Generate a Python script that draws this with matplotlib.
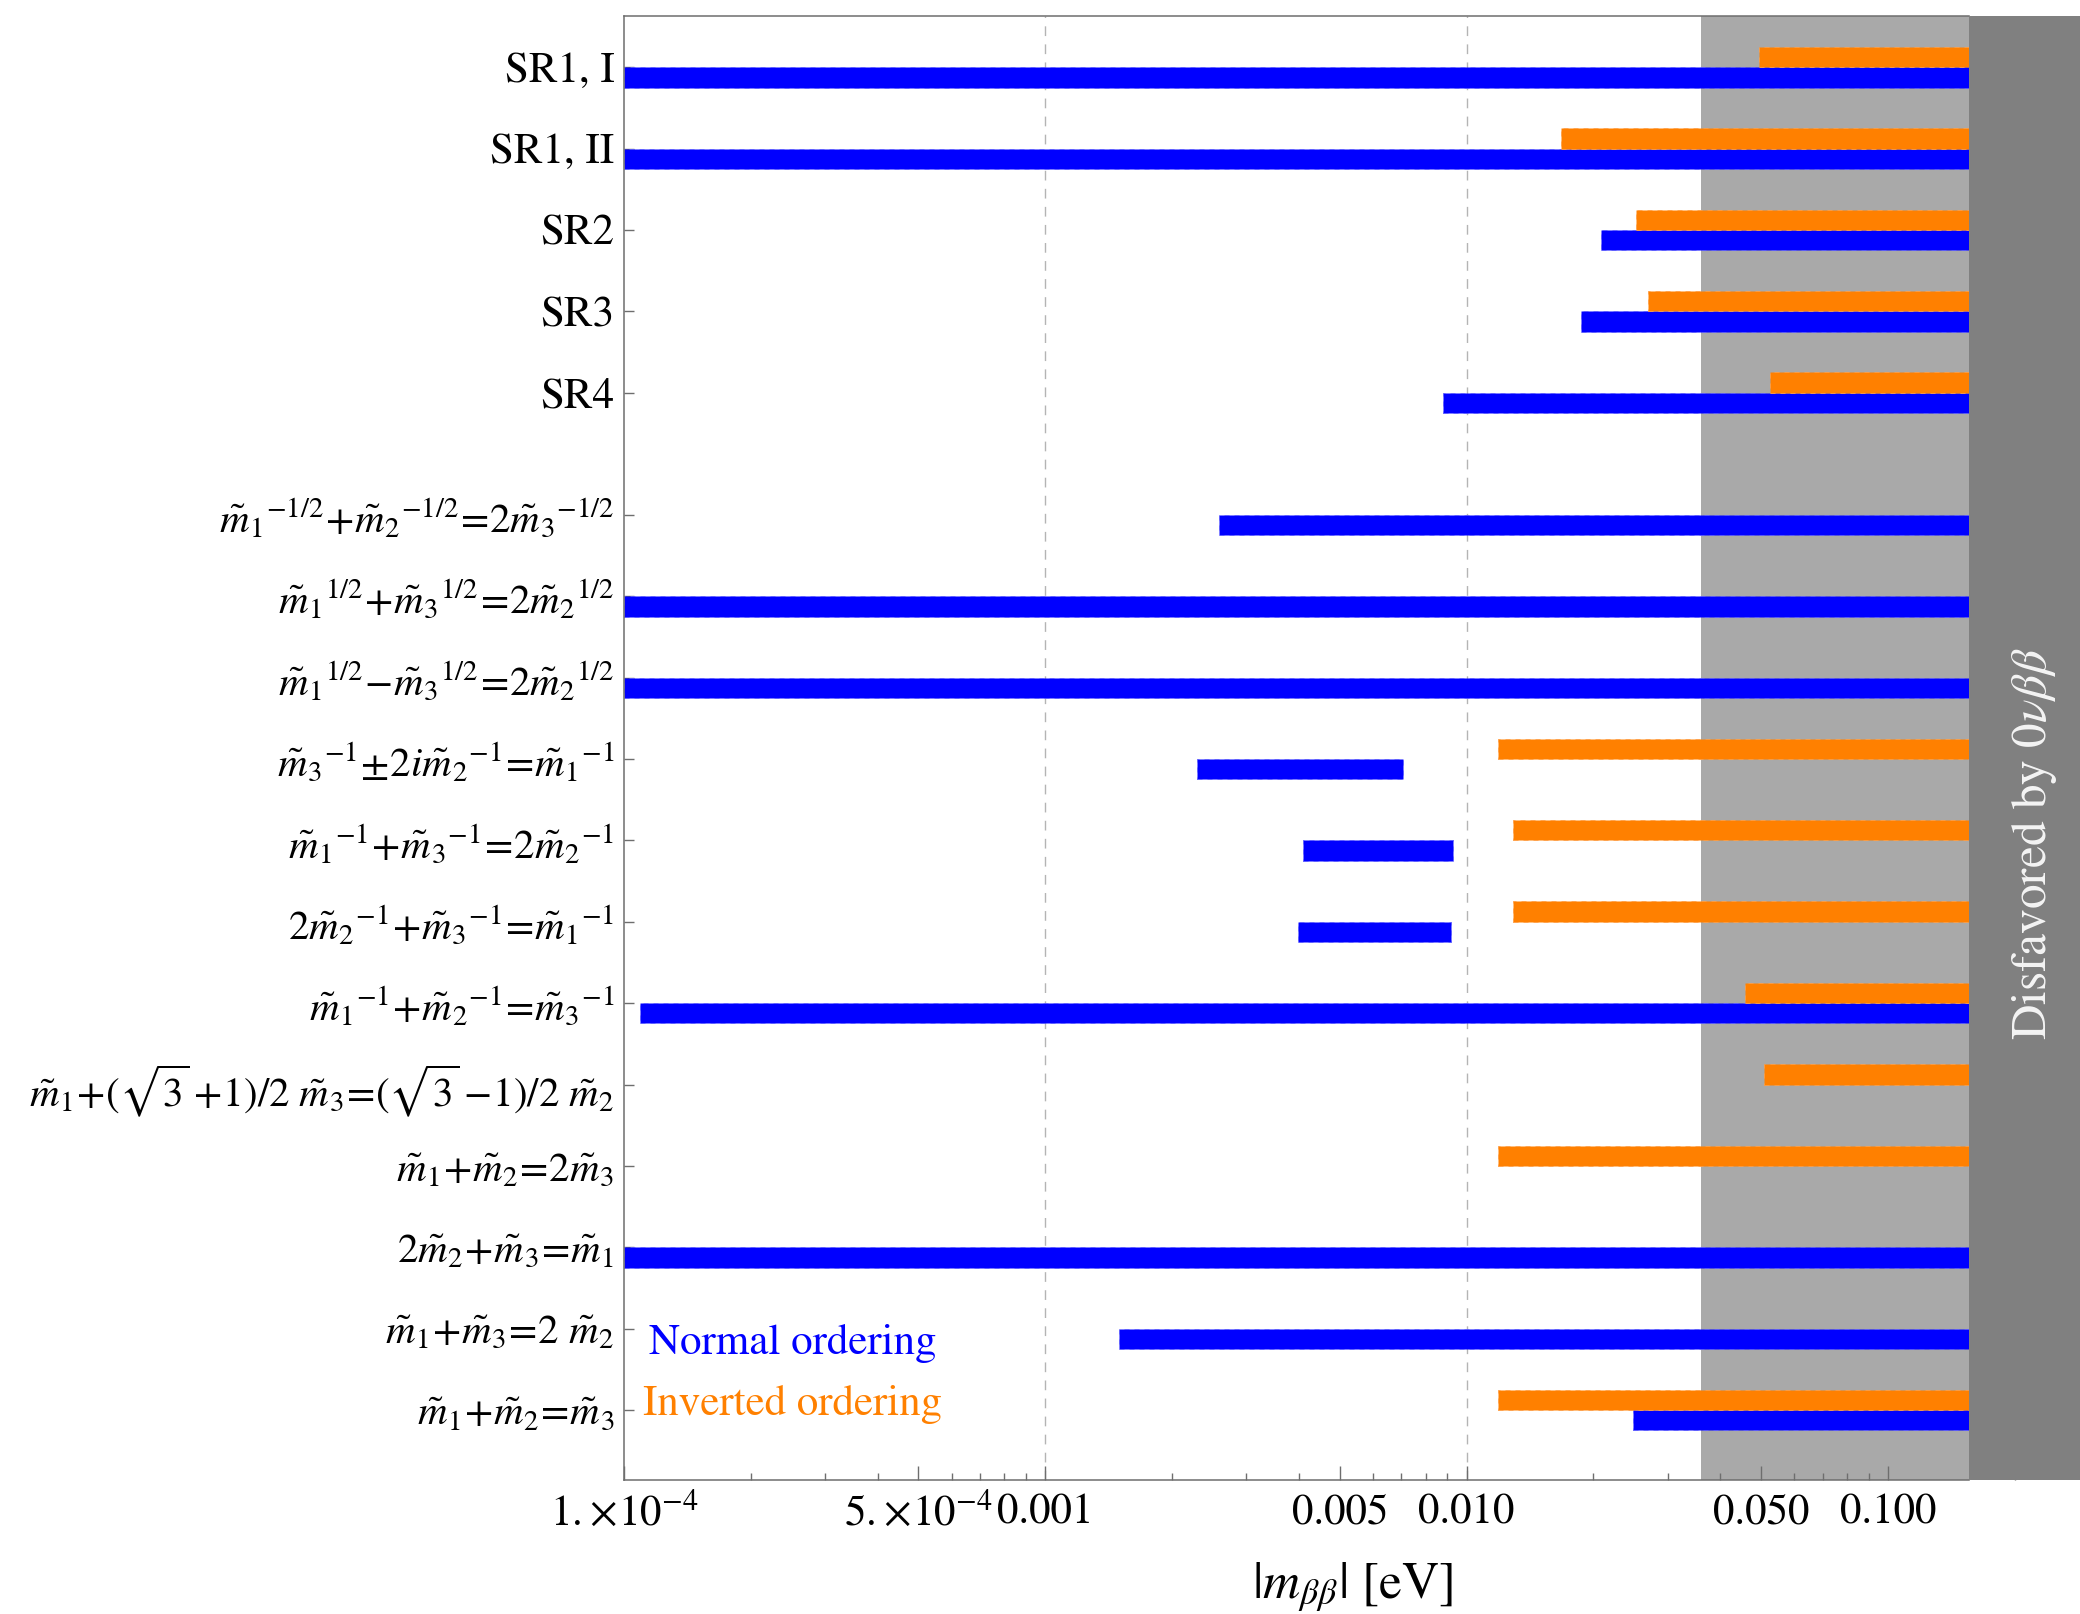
import numpy as np
import matplotlib
matplotlib.use("Agg")
import matplotlib.pyplot as plt
from matplotlib.ticker import FixedLocator, FixedFormatter, NullFormatter

plt.rcParams['mathtext.fontset'] = 'stix'
plt.rcParams['font.family'] = ['STIXGeneral', 'Liberation Serif', 'DejaVu Serif']

nan = np.nan

# Scenario labels, top to bottom
sr_labels = ["SR1, I", "SR1, II", "SR2", "SR3", "SR4"]
sum_rule_labels = [
    r"$\tilde{m}_1{}^{-1/2}\!+\!\tilde{m}_2{}^{-1/2}\!=\!2\tilde{m}_3{}^{-1/2}$",
    r"$\tilde{m}_1{}^{1/2}\!+\!\tilde{m}_3{}^{1/2}\!=\!2\tilde{m}_2{}^{1/2}$",
    r"$\tilde{m}_1{}^{1/2}\!-\!\tilde{m}_3{}^{1/2}\!=\!2\tilde{m}_2{}^{1/2}$",
    r"$\tilde{m}_3{}^{-1}\!\pm\!2i\tilde{m}_2{}^{-1}\!=\!\tilde{m}_1{}^{-1}$",
    r"$\tilde{m}_1{}^{-1}\!+\!\tilde{m}_3{}^{-1}\!=\!2\tilde{m}_2{}^{-1}$",
    r"$2\tilde{m}_2{}^{-1}\!+\!\tilde{m}_3{}^{-1}\!=\!\tilde{m}_1{}^{-1}$",
    r"$\tilde{m}_1{}^{-1}\!+\!\tilde{m}_2{}^{-1}\!=\!\tilde{m}_3{}^{-1}$",
    r"$\tilde{m}_1\!+\!(\sqrt{3}\,\!+\!1)/2\ \tilde{m}_3\!=\!(\sqrt{3}\,\!-\!1)/2\ \tilde{m}_2$",
    r"$\tilde{m}_1\!+\!\tilde{m}_2\!=\!2\tilde{m}_3$",
    r"$2\tilde{m}_2\!+\!\tilde{m}_3\!=\!\tilde{m}_1$",
    r"$\tilde{m}_1\!+\!\tilde{m}_3\!=\!2\ \tilde{m}_2$",
    r"$\tilde{m}_1\!+\!\tilde{m}_2\!=\!\tilde{m}_3$",
]

# Allowed |m_bb| ranges [eV], normal ordering
no_low = [1e-4, 1e-4, 0.0208, 0.0187, 0.0088,
          0.00258, 1e-4, 1e-4, 0.00229, 0.00408, 0.00398, 1.09e-4, nan, nan, 1e-4, 0.0015, 0.0249]
no_high = [0.156, 0.156, 0.156, 0.156, 0.156,
           0.156, 0.156, 0.156, 0.00708, 0.00929, 0.00919, 0.156, nan, nan, 0.156, 0.156, 0.156]

# Allowed |m_bb| ranges [eV], inverted ordering
io_low = [0.0494, 0.0168, 0.0253, 0.0269, 0.0524,
          nan, nan, nan, 0.0119, 0.0129, 0.0129, 0.0458, 0.0507, 0.0119, nan, nan, 0.0119]
io_high = [0.156, 0.156, 0.156, 0.156, 0.156,
           nan, nan, nan, 0.156, 0.156, 0.156, 0.156, 0.156, 0.156, nan, nan, 0.156]

# KamLAND-Zen band and excluded region [eV]
kz_band = (0.036, 0.156)

major_ticks = [1e-4, 5e-4, 1e-3, 5e-3, 1e-2, 5e-2, 1e-1]
major_labels = [r"$1.\!\times\!10^{-4}$", r"$5.\!\times\!10^{-4}$", "0.001", "0.005",
                "0.010", "0.050", "0.100"]

BLUE = "#0000ff"
ORANGE = "#ff8000"
LIGHT = "#a9a9a9"
DARK = "#808080"
SPINE = "#6e6e6e"
FS = 31
FS_MATH = 29.5

labels = sr_labels + sum_rule_labels
n1, n2 = len(sr_labels), len(sum_rule_labels)
ypos = np.concatenate([np.arange(n1)[::-1] + n2 + 0.5, np.arange(n2)[::-1]]).astype(float)

no_low, no_high = np.array(no_low), np.array(no_high)
io_low, io_high = np.array(io_low), np.array(io_high)

fig = plt.figure(figsize=(20.8, 16.14), dpi=100)
ax = fig.add_axes([0.3, 0.0830, 0.7, 0.9071])
ax.set_xscale("log")
xmax = 0.2858
ax.set_xlim(1e-4, xmax)
ax.set_ylim(-0.86, 17.13)

# shaded bands
ax.axvspan(kz_band[0], kz_band[1], color=LIGHT, lw=0, zorder=0.5)
ax.axvspan(kz_band[1], xmax, color=DARK, lw=0, zorder=4)

# reference lines
for xv in (1e-3, 1e-2):
    ax.axvline(xv, color="#b4b4b4", lw=1.0, dashes=(7, 6), zorder=1)

h = 0.25
m = ~np.isnan(no_low)
ax.barh(ypos[m] - h / 2, no_high[m] - no_low[m], left=no_low[m], height=h,
        color=BLUE, edgecolor="#5a5aff", linewidth=0.6, linestyle=(0, (6, 6)), zorder=2)
m = ~np.isnan(io_low)
ax.barh(ypos[m] + h / 2, io_high[m] - io_low[m], left=io_low[m], height=h,
        color=ORANGE, edgecolor="#ff9e45", linewidth=0.6, linestyle=(0, (6, 6)), zorder=2)

# axes styling
for side in ("top", "bottom", "left"):
    ax.spines[side].set_color(SPINE)
    ax.spines[side].set_linewidth(1.1)
ax.spines["right"].set_visible(False)
ax.spines["top"].set_bounds(1e-4, kz_band[1])
ax.spines["bottom"].set_bounds(1e-4, kz_band[1])

ax.set_yticks(ypos)
ax.set_yticklabels(labels)
for lab, txt in zip(ax.get_yticklabels(), labels):
    lab.set_fontsize(FS_MATH if txt.startswith("$") else FS)
ax.tick_params(axis="y", direction="in", length=7, width=1, color=SPINE, pad=7)

minor = [k * 10.0 ** e for e in range(-4, 0) for k in (2, 3, 4, 6, 7, 8, 9)]
ax.xaxis.set_major_locator(FixedLocator(major_ticks))
ax.xaxis.set_major_formatter(FixedFormatter(major_labels))
ax.xaxis.set_minor_locator(FixedLocator(minor))
ax.xaxis.set_minor_formatter(NullFormatter())
ax.tick_params(axis="x", which="major", direction="in", length=10, width=1,
               color=SPINE, pad=10, labelsize=FS)
ax.tick_params(axis="x", which="minor", direction="in", length=5, width=1, color=SPINE)

ax.set_xlabel(r"$|m_{\beta\beta}|$ [eV]", fontsize=37)
ax.xaxis.label.set_va("center")
ax.xaxis.set_label_coords(0.5, -0.0735)

ax.text(0.0172, 0.0936, "Normal ordering", color=BLUE, fontsize=FS,
        transform=ax.transAxes, ha="left", va="center", zorder=5)
ax.text(0.0132, 0.0519, "Inverted ordering", color=ORANGE, fontsize=FS,
        transform=ax.transAxes, ha="left", va="center", zorder=5)
ax.text(0.969, 0.435, r"Disfavored by $0\nu\beta\beta$", color="#f4f4f4", fontsize=35.5,
        rotation=90, transform=ax.transAxes, ha="center", va="center", zorder=5)

fig.savefig("out.png", dpi=100)
